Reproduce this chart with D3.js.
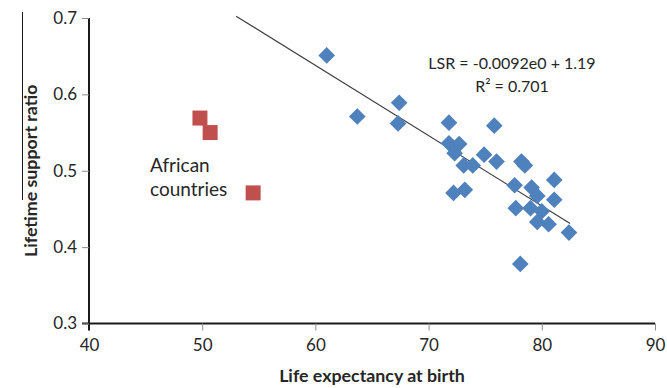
<!DOCTYPE html>
<html>
<head>
<meta charset="utf-8">
<script src="https://cdn.jsdelivr.net/npm/d3@7"></script>
<style>
  html, body { margin: 0; padding: 0; background: #ffffff; }
  svg { display: block; }
  text { font-family: Lato, "Open Sans", sans-serif; fill: #262626; }
</style>
</head>
<body>
<svg id="chart" width="667" height="388"></svg>
<script>
// Life expectancy at birth (x) and lifetime support ratio (y)
const countryLifeExp = [61.0, 63.7, 67.4, 67.3, 71.8, 75.8, 71.8, 72.7, 72.3, 73.1,
                        73.9, 74.9, 76.0, 78.2, 78.5, 72.2, 73.2, 77.6, 81.1, 79.1,
                        79.6, 81.1, 77.7, 79.0, 80.0, 79.6, 80.6, 82.4, 78.1];
const countryLSR     = [0.651, 0.571, 0.589, 0.562, 0.563, 0.559, 0.536, 0.535, 0.523, 0.507,
                        0.507, 0.521, 0.512, 0.512, 0.507, 0.471, 0.475, 0.481, 0.488, 0.478,
                        0.467, 0.462, 0.451, 0.451, 0.447, 0.433, 0.430, 0.419, 0.378];

// African countries, shown separately
const africaLifeExp = [49.8, 50.7, 54.5];
const africaLSR     = [0.569, 0.550, 0.471];

// Fitted line LSR = slope * e0 + intercept, drawn over this e0 range
const fitSlope = -0.0092;
const fitIntercept = 1.19;
const fitRange = [53.0, 82.5];

const xTicks = [40, 50, 60, 70, 80, 90];
const yTicks = [0.3, 0.4, 0.5, 0.6, 0.7];

const svg = d3.select("#chart");
const plotLeft = 89, plotRight = 655, plotTop = 18, plotBottom = 323.5;

const x = d3.scaleLinear().domain([40, 90]).range([plotLeft, plotRight]);
const y = d3.scaleLinear().domain([0.3, 0.7]).range([plotBottom, plotTop]);

// Axes
const xAxis = d3.axisBottom(x).tickValues(xTicks).tickSize(7).tickPadding(8).tickFormat(d3.format("d"));
const yAxis = d3.axisLeft(y).tickValues(yTicks).tickSize(7).tickPadding(5).tickFormat(d3.format(".1f"));

const gx = svg.append("g").attr("transform", `translate(0,${plotBottom})`).call(xAxis);
const gy = svg.append("g").attr("transform", `translate(${plotLeft},0)`).call(yAxis);

[gx, gy].forEach(g => {
  g.select(".domain").attr("stroke", "#1a1a1a").attr("stroke-width", 2);
  g.selectAll(".tick line").attr("stroke", "#8c8c8c").attr("stroke-width", 1);
  g.selectAll(".tick text").attr("font-size", 17).attr("fill", "#262626")
    .attr("font-family", "Lato, 'Open Sans', sans-serif");
});
// axis lines continue past the corner like the outer ticks
gx.select(".domain").attr("d", `M${plotLeft - 7},0H${plotRight}`);
gy.select(".domain").attr("d", `M0,${plotTop}V${plotBottom + 7}`);

// Axis titles
svg.append("text")
  .attr("x", (plotLeft + plotRight) / 2).attr("y", 382)
  .attr("text-anchor", "middle").attr("font-size", 17.8).attr("font-weight", "bold")
  .text("Life expectancy at birth");

svg.append("text")
  .attr("transform", `translate(37,${(plotTop + plotBottom) / 2}) rotate(-90)`)
  .attr("text-anchor", "middle").attr("font-size", 17.8).attr("font-weight", "bold")
  .text("Lifetime support ratio");

svg.append("line")
  .attr("x1", 22.5).attr("x2", 22.5).attr("y1", 12).attr("y2", 200)
  .attr("stroke", "#1a1a1a").attr("stroke-width", 1);

// Regression line
const line = d3.line().x(d => x(d)).y(d => y(fitSlope * d + fitIntercept));
svg.append("path")
  .attr("d", line(fitRange))
  .attr("fill", "none").attr("stroke", "#404040").attr("stroke-width", 1.2);

// Country points (diamonds)
const diamond = d3.symbol().type(d3.symbolSquare).size(139);
svg.append("g").selectAll("path")
  .data(d3.range(countryLifeExp.length))
  .join("path")
  .attr("d", diamond)
  .attr("transform", i => `translate(${x(countryLifeExp[i])},${y(countryLSR[i])}) rotate(45)`)
  .attr("fill", "#4f81bd");

// African points (squares)
const square = d3.symbol().type(d3.symbolSquare).size(225);
svg.append("g").selectAll("path")
  .data(d3.range(africaLifeExp.length))
  .join("path")
  .attr("d", square)
  .attr("transform", i => `translate(${x(africaLifeExp[i])},${y(africaLSR[i])})`)
  .attr("fill", "#c0504d");

// Annotations
const label = svg.append("text").attr("x", 150).attr("font-size", 19);
label.append("tspan").attr("x", 150).attr("y", 172).text("African");
label.append("tspan").attr("x", 150).attr("y", 196).text("countries");

const eq = svg.append("text").attr("text-anchor", "middle").attr("font-size", 16);
eq.append("tspan").attr("x", 512).attr("y", 69).text("LSR = -0.0092e0 + 1.19");
eq.append("tspan").attr("x", 512).attr("y", 92).text("R² = 0.701");
</script>
</body>
</html>
